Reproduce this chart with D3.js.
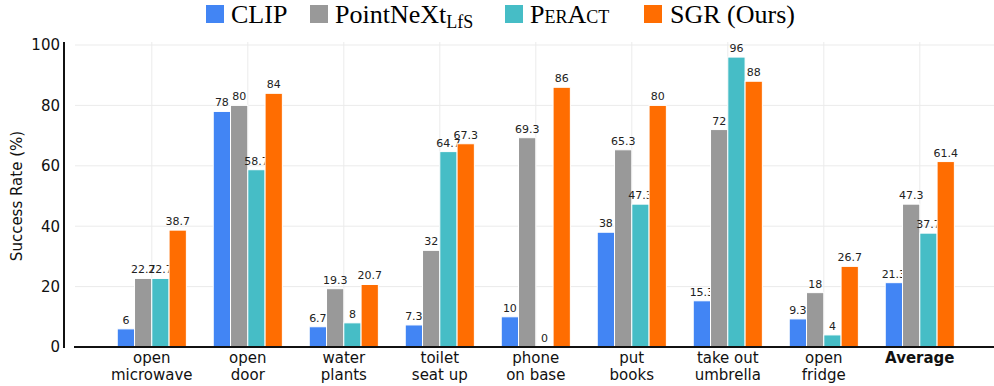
<!DOCTYPE html>
<html><head><meta charset="utf-8">
<script src="https://cdn.jsdelivr.net/npm/d3@7"></script>
<style>body{margin:0;background:#fff}svg{display:block}</style>
</head><body>
<script>
const categories = [["open","microwave"],["open","door"],["water","plants"],["toilet","seat up"],["phone","on base"],["put","books"],["take out","umbrella"],["open","fridge"],["Average"]];
const seriesNames = ["CLIP","PointNeXt","PerAct","SGR (Ours)"];
const clip     = [6, 78, 6.7, 7.3, 10, 38, 15.3, 9.3, 21.3];
const pointnext= [22.7, 80, 19.3, 32, 69.3, 65.3, 72, 18, 47.3];
const peract   = [22.7, 58.7, 8, 64.7, 0, 47.3, 96, 4, 37.7];
const sgr      = [38.7, 84, 20.7, 67.3, 86, 80, 88, 26.7, 61.4];
const yTicks = [0,20,40,60,80,100];
const colors = ["#4285F4","#999999","#46BDC6","#FF6D01"];
const series = [clip, pointnext, peract, sgr];

const W=994,H=386;
const svg=d3.select("body").append("svg").attr("width",W).attr("height",H);
const x=d3.scaleLinear().domain([-0.8,8.8]).range([75,996.6]);
const y=d3.scaleLinear().domain([0,100]).range([347,45]);
const step=x(1)-x(0);
const bw=step*0.72/4;

// grid
const g=svg.append("g");
g.selectAll(".hg").data(yTicks.slice(1)).join("line")
 .attr("x1",75).attr("x2",W).attr("y1",d=>y(d)).attr("y2",d=>y(d))
 .attr("stroke","#ebebeb").attr("stroke-width",1);
g.selectAll(".vg").data(categories).join("line")
 .attr("x1",(d,i)=>x(i)).attr("x2",(d,i)=>x(i)).attr("y1",42).attr("y2",347)
 .attr("stroke","#ebebeb").attr("stroke-width",1);

// bars
series.forEach((s,k)=>{
  const gs=svg.append("g");
  gs.selectAll("rect").data(s).join("rect")
   .attr("x",(d,i)=>x(i)-2*bw+k*bw).attr("width",bw)
   .attr("y",d=>y(d)).attr("height",d=>y(0)-y(d))
   .attr("fill",colors[k]).attr("stroke","#fff").attr("stroke-width",1);
  gs.selectAll("text").data(s).join("text")
   .attr("x",(d,i)=>x(i)-2*bw+k*bw+bw/2).attr("y",d=>y(d)-5)
   .attr("text-anchor","middle").attr("font-family","DejaVu Sans").attr("font-size",11)
   .attr("fill","#222").text(d=>d);
});

// axes
const ya=svg.append("g").attr("transform","translate(64,0)")
 .call(d3.axisLeft(y).tickValues(yTicks).tickSize(0).tickPadding(4));
ya.select(".domain").remove();
ya.selectAll("text").attr("font-family","DejaVu Sans").attr("font-size",15).attr("fill","#111");
svg.append("line").attr("x1",64).attr("x2",64).attr("y1",42).attr("y2",348).attr("stroke","#111").attr("stroke-width",2);
svg.append("line").attr("x1",74).attr("x2",W).attr("y1",347).attr("y2",347).attr("stroke","#111").attr("stroke-width",2);

// category labels
const cl=svg.append("g").selectAll("text").data(categories).join("text")
 .attr("text-anchor","middle").attr("font-family","DejaVu Sans").attr("font-size",15).attr("fill","#111")
 .attr("font-weight",(d,i)=>i===categories.length-1?"bold":"normal")
 .attr("x",(d,i)=>x(i)).attr("y",363);
cl.each(function(d,i){
  const t=d3.select(this);
  d.forEach((line,j)=>t.append("tspan").attr("x",x(i)).attr("dy",j===0?0:17).text(line));
});

svg.append("text").attr("transform","translate(22,196) rotate(-90)")
 .attr("text-anchor","middle").attr("font-family","DejaVu Sans").attr("font-size",15).attr("fill","#111")
 .text("Success Rate (%)");

// legend
const lg=svg.append("g").attr("font-family","Liberation Serif").attr("font-size",26).attr("fill","#000");
const lx=[206,310,505,644];
lx.forEach((px,k)=>{
  lg.append("rect").attr("x",px).attr("y",5).attr("width",18).attr("height",18).attr("fill",colors[k]);
});
lg.append("text").attr("x",231).attr("y",23).text("CLIP");
const t2=lg.append("text").attr("x",335).attr("y",23);
t2.append("tspan").text("PointNeXt");
t2.append("tspan").attr("font-size",18).attr("dy",5).text("LfS");
lg.append("text").attr("x",530).attr("y",23).attr("font-variant","small-caps").text("PerAct");
lg.append("text").attr("x",670).attr("y",23).text("SGR (Ours)");
</script>
</body></html>
